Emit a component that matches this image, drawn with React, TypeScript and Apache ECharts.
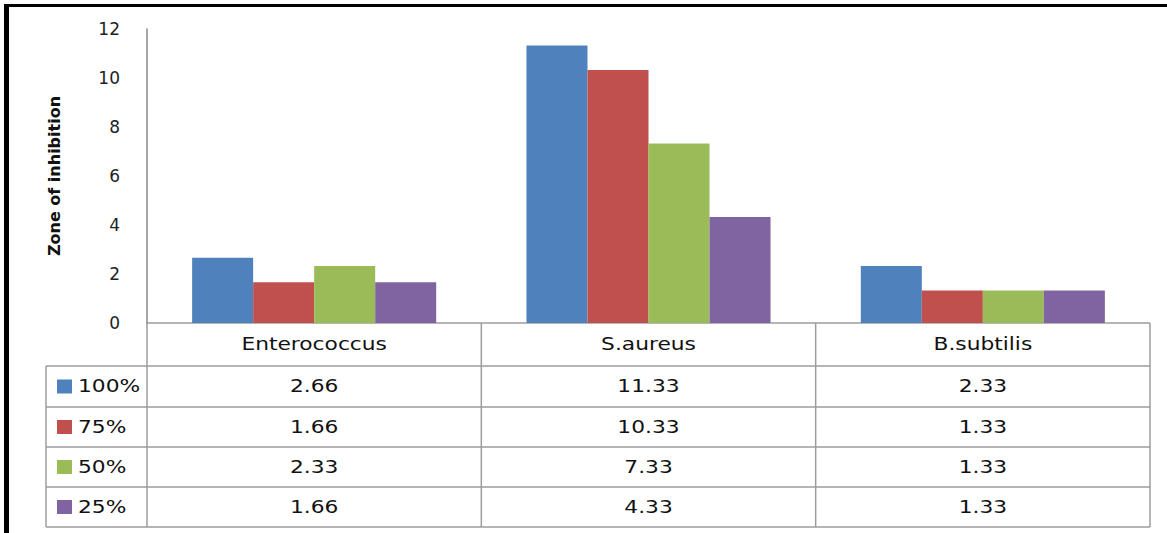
import React, { useEffect, useRef } from "react";
import * as echarts from "echarts";

const categories = ["Enterococcus", "S.aureus", "B.subtilis"];
const seriesNames = ["100%", "75%", "50%", "25%"];
const values100 = [2.66, 11.33, 2.33];
const values75 = [1.66, 10.33, 1.33];
const values50 = [2.33, 7.33, 1.33];
const values25 = [1.66, 4.33, 1.33];
const seriesValues = [values100, values75, values50, values25];
const colors = ["#4F81BD", "#C0504D", "#9BBB59", "#8064A2"];
const yAxisName = "Zone of inhibition";

const W = 1167;
const H = 533;
const GRID_LEFT = 147;
const GRID_RIGHT_X = 1150;
const GRID_TOP = 29;
const AXIS_Y = 323;
const TABLE_LEFT = 46;
const HEADER_BOTTOM = 366;
const ROW_BOTTOMS = [407, 447, 487, 527];
const LINE_COLOR = "#9c9c9c";
const FONT = "DejaVu Sans, Verdana, sans-serif";
const SX = 1.28;

export default function App() {
  const ref = useRef<HTMLDivElement>(null);
  useEffect(() => {
    if (!ref.current) return;
    const chart = echarts.init(ref.current, null, { renderer: "svg" });
    const colW = (GRID_RIGHT_X - GRID_LEFT) / categories.length;
    const graphics: any[] = [];
    const line = (x1: number, y1: number, x2: number, y2: number) =>
      graphics.push({
        type: "line",
        shape: { x1, y1, x2, y2 },
        style: { stroke: LINE_COLOR, lineWidth: 1.5 },
        silent: true,
      });
    const text = (t: string, x: number, y: number, align: string) =>
      graphics.push({
        type: "text",
        x,
        y,
        scaleX: SX,
        style: {
          text: t,
          fill: "#111",
          font: `17px ${FONT}`,
          align,
          verticalAlign: "middle",
        },
        silent: true,
      });
    // frame
    graphics.push({ type: "rect", shape: { x: 4, y: 4, width: W - 4, height: 3 }, style: { fill: "#000" } });
    graphics.push({ type: "rect", shape: { x: 4, y: 4, width: 5, height: H - 4 }, style: { fill: "#000" } });
    // table lines
    line(GRID_LEFT, AXIS_Y, GRID_RIGHT_X, AXIS_Y);
    line(TABLE_LEFT, HEADER_BOTTOM, GRID_RIGHT_X, HEADER_BOTTOM);
    ROW_BOTTOMS.forEach((y) => line(TABLE_LEFT, y, GRID_RIGHT_X, y));
    line(TABLE_LEFT, HEADER_BOTTOM, TABLE_LEFT, ROW_BOTTOMS[ROW_BOTTOMS.length - 1]);
    for (let i = 0; i <= categories.length; i++) {
      const x = GRID_LEFT + colW * i;
      line(x, AXIS_Y, x, ROW_BOTTOMS[ROW_BOTTOMS.length - 1]);
    }
    // header
    categories.forEach((c, i) => text(c, GRID_LEFT + colW * (i + 0.5), (AXIS_Y + HEADER_BOTTOM) / 2, "center"));
    // rows
    seriesNames.forEach((name, r) => {
      const top = r === 0 ? HEADER_BOTTOM : ROW_BOTTOMS[r - 1];
      const cy = (top + ROW_BOTTOMS[r]) / 2;
      graphics.push({
        type: "rect",
        shape: { x: 57, y: cy - 7, width: 15, height: 14 },
        style: { fill: colors[r] },
      });
      text(name, 78, cy, "left");
      seriesValues[r].forEach((v, i) =>
        text(v.toFixed(2), GRID_LEFT + colW * (i + 0.5), cy, "center")
      );
    });

    chart.setOption({
      animation: false,
      grid: {
        left: GRID_LEFT,
        right: W - GRID_RIGHT_X,
        top: GRID_TOP,
        bottom: H - AXIS_Y,
        containLabel: false,
      },
      xAxis: {
        type: "category",
        data: categories,
        axisLine: { show: false },
        axisTick: { show: false },
        axisLabel: { show: false },
      },
      yAxis: {
        type: "value",
        min: 0,
        max: 12,
        interval: 2,
        name: yAxisName,
        nameLocation: "middle",
        nameRotate: 90,
        nameGap: 85,
        nameTextStyle: { fontFamily: FONT, fontSize: 16, fontWeight: "bold", color: "#111" },
        axisLine: { show: true, lineStyle: { color: "#8a8a8a", width: 1.5 } },
        axisTick: { show: false },
        splitLine: { show: false },
        axisLabel: { margin: 27, fontFamily: FONT, fontSize: 17, color: "#222" },
      },
      series: seriesNames.map((name, i) => ({
        type: "bar",
        name,
        data: seriesValues[i],
        itemStyle: { color: colors[i] },
        barGap: "0%",
        barCategoryGap: "27%",
      })),
      graphic: graphics,
    });
    return () => chart.dispose();
  }, []);
  return (
    <div
      ref={ref}
      style={{ position: "fixed", left: 0, top: 0, width: W, height: H, background: "#fff" }}
    />
  );
}
